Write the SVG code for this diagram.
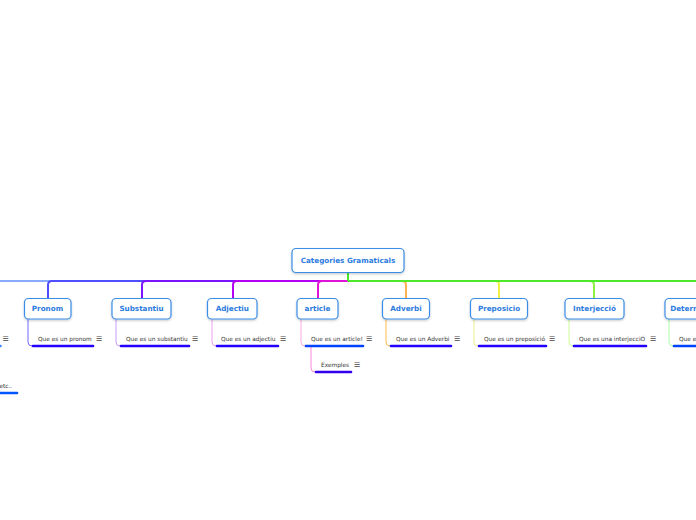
<svg xmlns="http://www.w3.org/2000/svg" width="696" height="520" viewBox="0 0 696 520">
<defs>
<filter id="sh" x="-20%" y="-30%" width="140%" height="170%">
<feDropShadow dx="0" dy="1.2" stdDeviation="1.2" flood-color="#000" flood-opacity="0.22"/>
</filter>
<style>
.box{fill:#fff;stroke:#3a8ee6;stroke-width:1.2;filter:url(#sh)}
.nt{font-family:"DejaVu Sans",Verdana,sans-serif;font-weight:bold;font-size:7.2px;fill:#2c7be0;text-anchor:middle}
.st{font-family:"DejaVu Sans",Verdana,sans-serif;font-size:5.8px;fill:#333}
.ic{font-family:"DejaVu Sans",sans-serif;font-size:7px;fill:#444}
.main{fill:none;stroke-width:2}
.br{fill:none;stroke-width:1.5}
.sub{fill:none;stroke-width:1}
.bar{stroke-width:2.6;stroke-linecap:round}
</style>
</defs>
<rect width="696" height="520" fill="#fff"/>
<g id="connectors">
<path class="main" stroke="#88aaff" d="M348 281 H0"/>
<path class="main" stroke="#4f4fff" d="M348 281 H52 Q48 281 48 285 V298"/>
<path class="main" stroke="#7d14ff" d="M348 281 H146 Q142 281 142 285 V298"/>
<path class="main" stroke="#b400f4" d="M348 281 H237 Q233 281 233 285 V298"/>
<path class="main" stroke="#e014d8" d="M348 281 H322 Q318 281 318 285 V298"/>
<path class="main" stroke="#ffb050" d="M348 281 H402 Q406 281 406 285 V298"/>
<path class="main" stroke="#f0f040" d="M348 281 H495 Q499 281 499 285 V298"/>
<path class="main" stroke="#8ef040" d="M348 281 H590 Q594 281 594 285 V298"/>
<path class="main" stroke="#4de82a" d="M348 281 H696"/>
<path class="main" stroke="#4de82a" d="M348 273 V281"/>
<path class="sub" stroke="#7766ff" d="M28 319 V342 Q28 346 32 346"/>
<path class="sub" stroke="#cc99ff" d="M116 319 V342 Q116 346 120 346"/>
<path class="sub" stroke="#eea0f0" d="M212 319 V342 Q212 346 216 346"/>
<path class="sub" stroke="#ffaadd" d="M301 319 V342 Q301 346 305 346"/>
<path class="sub" stroke="#ff88dd" d="M311 347 V368 Q311 372 315 372"/>
<path class="sub" stroke="#ffbb55" d="M386 319 V342 Q386 346 390 346"/>
<path class="sub" stroke="#eeee88" d="M474 319 V342 Q474 346 478 346"/>
<path class="sub" stroke="#ccff99" d="M569 319 V342 Q569 346 573 346"/>
<path class="sub" stroke="#aaffaa" d="M669 319 V342 Q669 346 673 346"/>
</g>
<g id="root">
<rect class="box" x="292" y="248.5" width="112" height="24" rx="4"/>
<text class="nt" x="348" y="263">Categories Gramaticals</text>
</g>
<g id="offleft">
<text class="ic" x="2.5" y="341">☰</text>
<line class="bar" stroke="#4488ff" x1="-4" y1="346" x2="0.5" y2="346"/>
<text class="st" x="-0.5" y="388">etc..</text>
<line class="bar" stroke="#0055ff" x1="-4" y1="393" x2="17" y2="393"/>
</g>
<g id="pronom">
<rect class="box" x="24.5" y="298.5" width="46.5" height="20.5" rx="4"/>
<text class="nt" x="47.5" y="311">Pronom</text>
</g>
<g id="pronom-sub">
<text class="st" x="38" y="341">Que es un pronom</text>
<text class="ic" x="96" y="341">☰</text>
<line class="bar" stroke="#2200ff" x1="33" y1="346" x2="93" y2="346"/>
</g>
<g id="substantiu">
<rect class="box" x="112" y="298.5" width="59" height="20.5" rx="4"/>
<text class="nt" x="141.5" y="311">Substantiu</text>
</g>
<g id="substantiu-sub">
<text class="st" x="126" y="341">Que es un substantiu</text>
<text class="ic" x="192" y="341">☰</text>
<line class="bar" stroke="#2200ff" x1="121" y1="346" x2="189" y2="346"/>
</g>
<g id="adjectiu">
<rect class="box" x="207.5" y="298.5" width="49.5" height="20.5" rx="4"/>
<text class="nt" x="232.3" y="311">Adjectiu</text>
</g>
<g id="adjectiu-sub">
<text class="st" x="221" y="341">Que es un adjectiu</text>
<text class="ic" x="280" y="341">☰</text>
<line class="bar" stroke="#2200ff" x1="217" y1="346" x2="278" y2="346"/>
</g>
<g id="article">
<rect class="box" x="297" y="298.5" width="41" height="20.5" rx="4"/>
<text class="nt" x="317.5" y="311">article</text>
</g>
<g id="article-sub">
<text class="st" x="311" y="341">Que es un article!</text>
<text class="ic" x="366" y="341">☰</text>
<line class="bar" stroke="#0044ff" x1="306" y1="346" x2="363" y2="346"/>
</g>
<g id="exemples">
<text class="st" x="321" y="367">Exemples</text>
<text class="ic" x="354" y="367">☰</text>
<line class="bar" stroke="#3300ee" x1="316" y1="372" x2="351" y2="372"/>
</g>
<g id="adverbi">
<rect class="box" x="382.5" y="298.5" width="47" height="20.5" rx="4"/>
<text class="nt" x="406" y="311">Adverbi</text>
</g>
<g id="adverbi-sub">
<text class="st" x="396" y="341">Que es un Adverbi</text>
<text class="ic" x="454" y="341">☰</text>
<line class="bar" stroke="#2200ff" x1="391" y1="346" x2="451" y2="346"/>
</g>
<g id="preposicio">
<rect class="box" x="470.5" y="298.5" width="57" height="20.5" rx="4"/>
<text class="nt" x="499" y="311">Preposicio</text>
</g>
<g id="preposicio-sub">
<text class="st" x="484" y="341">Que es un preposició</text>
<text class="ic" x="549" y="341">☰</text>
<line class="bar" stroke="#2200ff" x1="479" y1="346" x2="546" y2="346"/>
</g>
<g id="interjeccio">
<rect class="box" x="565" y="298.5" width="59" height="20.5" rx="4"/>
<text class="nt" x="594.5" y="311">Interjecció</text>
</g>
<g id="interjeccio-sub">
<text class="st" x="579" y="341">Que es una interjecciÓ</text>
<text class="ic" x="650" y="341">☰</text>
<line class="bar" stroke="#2200ff" x1="574" y1="346" x2="646" y2="346"/>
</g>
<g id="determinants">
<rect class="box" x="665" y="298.5" width="66" height="20.5" rx="4"/>
<text class="nt" x="698" y="311">Determinants</text>
</g>
<g id="determinants-sub">
<text class="st" x="679" y="341">Que es un determinant</text>
<line class="bar" stroke="#0044ff" x1="674" y1="346" x2="750" y2="346"/>
</g>
</svg>
